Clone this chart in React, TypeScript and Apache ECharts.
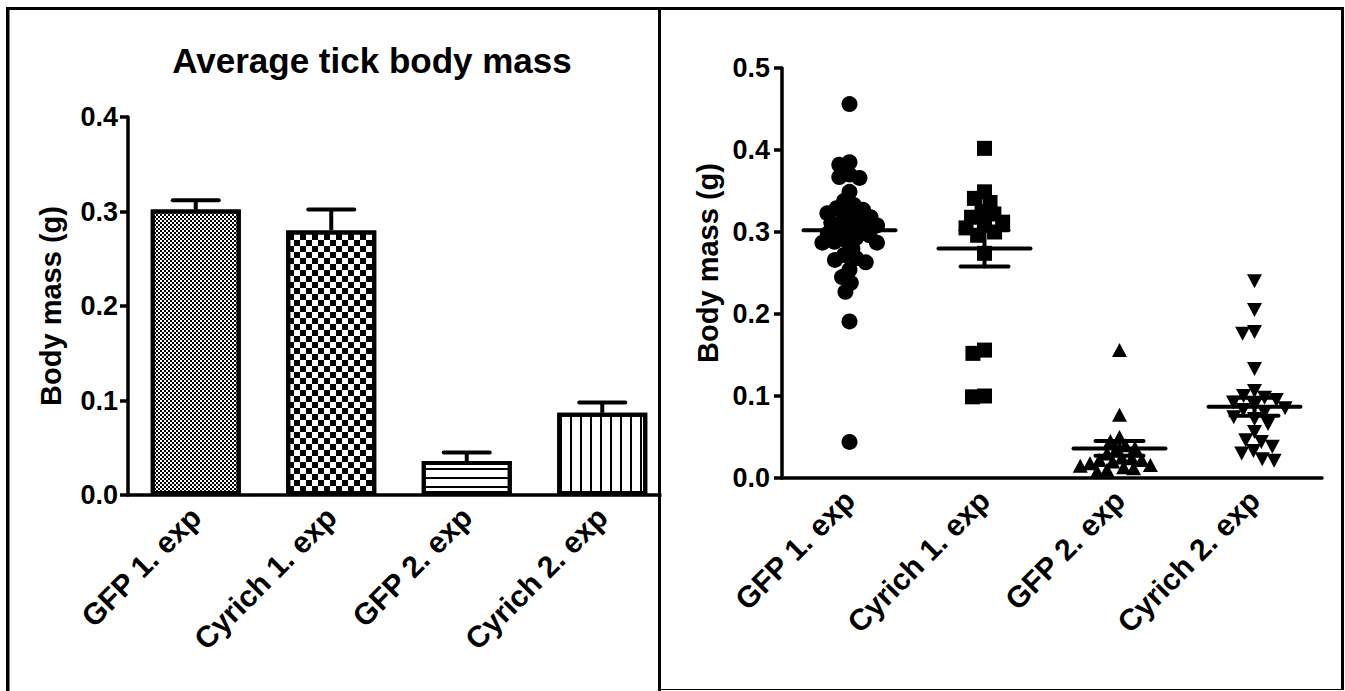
import React, { useEffect, useRef } from 'react';
import * as echarts from 'echarts';

const categories = ['GFP 1. exp', 'Cyrich 1. exp', 'GFP 2. exp', 'Cyrich 2. exp'];
const barMeans = [0.302, 0.280, 0.036, 0.087];
const barSem = [0.010, 0.022, 0.009, 0.011];

const gfp1 = [0.456, 0.385, 0.382, 0.370, 0.367, 0.366, 0.349, 0.338, 0.333, 0.329, 0.327, 0.323, 0.323,
  0.318, 0.315, 0.312, 0.311, 0.308, 0.305, 0.303, 0.300, 0.298, 0.296, 0.293, 0.290, 0.288, 0.287, 0.287,
  0.280, 0.272, 0.268, 0.266, 0.263, 0.254, 0.245, 0.238, 0.227, 0.191, 0.044];
const cyrich1 = [0.402, 0.349, 0.341, 0.336, 0.325, 0.322, 0.318, 0.312, 0.308, 0.305, 0.300, 0.296, 0.274,
  0.156, 0.152, 0.099, 0.100];
const gfp2 = [0.156, 0.077, 0.050, 0.045, 0.040, 0.037, 0.035, 0.030, 0.025, 0.024, 0.022, 0.022, 0.020,
  0.018, 0.016, 0.015, 0.013, 0.012, 0.010, 0.008];
const cyrich2 = [0.240, 0.205, 0.178, 0.176, 0.133, 0.106, 0.100, 0.098, 0.095, 0.092, 0.088, 0.085, 0.083,
  0.080, 0.074, 0.072, 0.066, 0.056, 0.046, 0.044, 0.038, 0.033, 0.030, 0.023, 0.021];

const FONT = '"Liberation Sans", Arial, Helvetica, sans-serif';
const RIGHT_BAND_PX = 135;
const RIGHT_PX_PER_UNIT = 820;

function swarmOffsets(values: number[], diam: number, pxPerUnit: number): number[] {
  const order = values.map((_, i) => i).sort((a, b) => values[b] - values[a]);
  const placed: { x: number; y: number }[] = [];
  const out = new Array(values.length).fill(0);
  const d2 = diam * diam;
  for (const i of order) {
    const y = values[i] * pxPerUnit;
    const cands = [0];
    for (const p of placed) {
      const dy = Math.abs(p.y - y);
      if (dy < diam) {
        const dx = Math.sqrt(d2 - dy * dy);
        cands.push(p.x + dx + 0.01, p.x - dx - 0.01);
      }
    }
    cands.sort((a, b) => Math.abs(a) - Math.abs(b) || a - b);
    let best = 0;
    for (const c of cands) {
      if (placed.every((p) => (p.x - c) ** 2 + (p.y - y) ** 2 >= d2 - 1e-6)) { best = c; break; }
    }
    out[i] = best;
    placed.push({ x: best, y });
  }
  return out;
}

function swarmData(values: number[], catIndex: number, diam: number) {
  const offs = swarmOffsets(values, diam, RIGHT_PX_PER_UNIT);
  return values.map((v, k) => [catIndex + offs[k] / RIGHT_BAND_PX, v]);
}

const decals: any[] = [
  { symbol: 'rect', symbolSize: 1, color: '#000', dashArrayX: [[2, 2], [0, 2, 2, 0]], dashArrayY: [2, 0] },
  { symbol: 'rect', symbolSize: 1, color: '#000', dashArrayX: [[6, 6], [0, 6, 6, 0]], dashArrayY: [6, 0] },
  { symbol: 'rect', symbolSize: 1, color: '#000', dashArrayX: [1, 0], dashArrayY: [1.5, 6.5] },
  { symbol: 'rect', symbolSize: 1, color: '#000', dashArrayX: [1.5, 7.5], dashArrayY: [1, 0] },
];

const axisText = { fontFamily: FONT, fontWeight: 'bold' as const, color: '#000' };

function catAxis(gridIndex: number) {
  return {
    gridIndex,
    type: 'category',
    data: categories,
    axisLine: { lineStyle: { color: '#000', width: 3.5 } },
    axisTick: { alignWithLabel: true, length: 11, lineStyle: { color: '#000', width: 3.5 } },
    axisLabel: { ...axisText, rotate: 45, margin: 17, fontSize: 30 },
    splitLine: { show: false },
  };
}

function valAxis(gridIndex: number, max: number, labelMargin: number, nameGap: number, namePad: number[]) {
  return {
    gridIndex,
    type: 'value',
    min: 0,
    max,
    interval: 0.1,
    name: 'Body mass (g)',
    nameLocation: 'middle',
    nameGap,
    nameTextStyle: { ...axisText, fontSize: 29, padding: namePad },
    axisLine: { show: true, onZero: false, lineStyle: { color: '#000', width: 3.5 } },
    axisTick: { show: true, length: 8, lineStyle: { color: '#000', width: 3.5 } },
    axisLabel: { ...axisText, fontSize: 27, margin: labelMargin, formatter: (v: number) => v.toFixed(1) },
    splitLine: { show: false },
  };
}

export default function App() {
  const ref = useRef<HTMLDivElement>(null);
  useEffect(() => {
    if (!ref.current) return;
    const chart = echarts.init(ref.current, undefined, { renderer: 'svg' });
    const option: any = {
      animation: false,
      backgroundColor: '#fff',
      title: {
        text: 'Average tick body mass',
        left: 372,
        top: 43,
        textAlign: 'center',
        padding: 0,
        textStyle: { ...axisText, fontSize: 35 },
      },
      grid: [
        { left: 128, top: 117, width: 542, height: 378 },
        { left: 782, top: 68, width: 540, height: 410 },
      ],
      xAxis: [
        catAxis(0),
        catAxis(1),
        { gridIndex: 1, type: 'value', min: -0.5, max: 3.5, show: false },
      ],
      yAxis: [
        valAxis(0, 0.4, 10, 63, [0, 0, 0, 0]),
        valAxis(1, 0.5, 12, 60, [0, 0, 0, 20]),
      ],
      series: [
        {
          type: 'bar',
          xAxisIndex: 0,
          yAxisIndex: 0,
          barWidth: 90,
          itemStyle: { color: '#fff', borderColor: '#000', borderWidth: 4 },
          data: barMeans.map((v, i) => ({ value: v, itemStyle: { decal: decals[i] } })),
          z: 2,
        },
        {
          type: 'custom',
          xAxisIndex: 0,
          yAxisIndex: 0,
          z: 3,
          data: barMeans.map((m, i) => [i, m, m + barSem[i]]),
          encode: { x: 0, y: [1, 2] },
          renderItem: (params: any, api: any) => {
            const base = api.coord([api.value(0), api.value(1)]);
            const top = api.coord([api.value(0), api.value(2)]);
            return {
              type: 'group',
              children: [
                { type: 'line', shape: { x1: base[0], y1: base[1], x2: base[0], y2: top[1] }, style: { stroke: '#000', lineWidth: 4 } },
                { type: 'line', shape: { x1: base[0] - 23, y1: top[1], x2: base[0] + 23, y2: top[1] }, style: { stroke: '#000', lineWidth: 4, lineCap: 'round' } },
              ],
            };
          },
        },
        {
          type: 'scatter', xAxisIndex: 2, yAxisIndex: 1, symbol: 'circle', symbolSize: 16,
          itemStyle: { color: '#000', opacity: 1 }, data: swarmData(gfp1, 0, 10.5),
        },
        {
          type: 'scatter', xAxisIndex: 2, yAxisIndex: 1, symbol: 'rect', symbolSize: 15,
          itemStyle: { color: '#000', opacity: 1 }, data: swarmData(cyrich1, 1, 12),
        },
        {
          type: 'scatter', xAxisIndex: 2, yAxisIndex: 1, symbol: 'triangle', symbolSize: [15, 14],
          itemStyle: { color: '#000', opacity: 1 }, data: swarmData(gfp2, 2, 10),
        },
        {
          type: 'scatter', xAxisIndex: 2, yAxisIndex: 1, symbol: 'triangle', symbolRotate: 180, symbolSize: [15, 14],
          itemStyle: { color: '#000', opacity: 1 }, data: swarmData(cyrich2, 3, 12),
        },
        {
          type: 'custom',
          xAxisIndex: 1,
          yAxisIndex: 1,
          z: 5,
          data: barMeans.map((m, i) => [i, m, m - barSem[i], m + barSem[i]]),
          encode: { x: 0, y: [1, 2, 3] },
          renderItem: (params: any, api: any) => {
            const mid = api.coord([api.value(0), api.value(1)]);
            const lo = api.coord([api.value(0), api.value(2)]);
            const hi = api.coord([api.value(0), api.value(3)]);
            const st = { stroke: '#000', lineWidth: 4, lineCap: 'round' };
            return {
              type: 'group',
              children: [
                { type: 'line', shape: { x1: mid[0] - 46, y1: mid[1], x2: mid[0] + 46, y2: mid[1] }, style: st },
                { type: 'line', shape: { x1: mid[0], y1: lo[1], x2: mid[0], y2: hi[1] }, style: st },
                { type: 'line', shape: { x1: mid[0] - 24, y1: lo[1], x2: mid[0] + 24, y2: lo[1] }, style: st },
                { type: 'line', shape: { x1: mid[0] - 24, y1: hi[1], x2: mid[0] + 24, y2: hi[1] }, style: st },
              ],
            };
          },
        },
      ],
      graphic: [
        { type: 'rect', z: 100, shape: { x: 661.5, y: 486, width: 20, height: 18 }, style: { fill: '#fff' } },
        { type: 'rect', z: 101, shape: { x: 6, y: 7, width: 3.5, height: 684 }, style: { fill: '#000' } },
        { type: 'rect', z: 101, shape: { x: 6, y: 7, width: 1338, height: 3 }, style: { fill: '#000' } },
        { type: 'rect', z: 101, shape: { x: 658, y: 7, width: 3, height: 684 }, style: { fill: '#000' } },
        { type: 'rect', z: 101, shape: { x: 1341, y: 7, width: 3, height: 683 }, style: { fill: '#000' } },
        { type: 'rect', z: 101, shape: { x: 658, y: 689, width: 686, height: 1 }, style: { fill: '#000' } },
      ],
    };
    chart.setOption(option);
    return () => chart.dispose();
  }, []);
  return (
    <div
      ref={ref}
      style={{ position: 'fixed', left: 0, top: 0, width: 1345, height: 691, background: '#fff' }}
    />
  );
}
